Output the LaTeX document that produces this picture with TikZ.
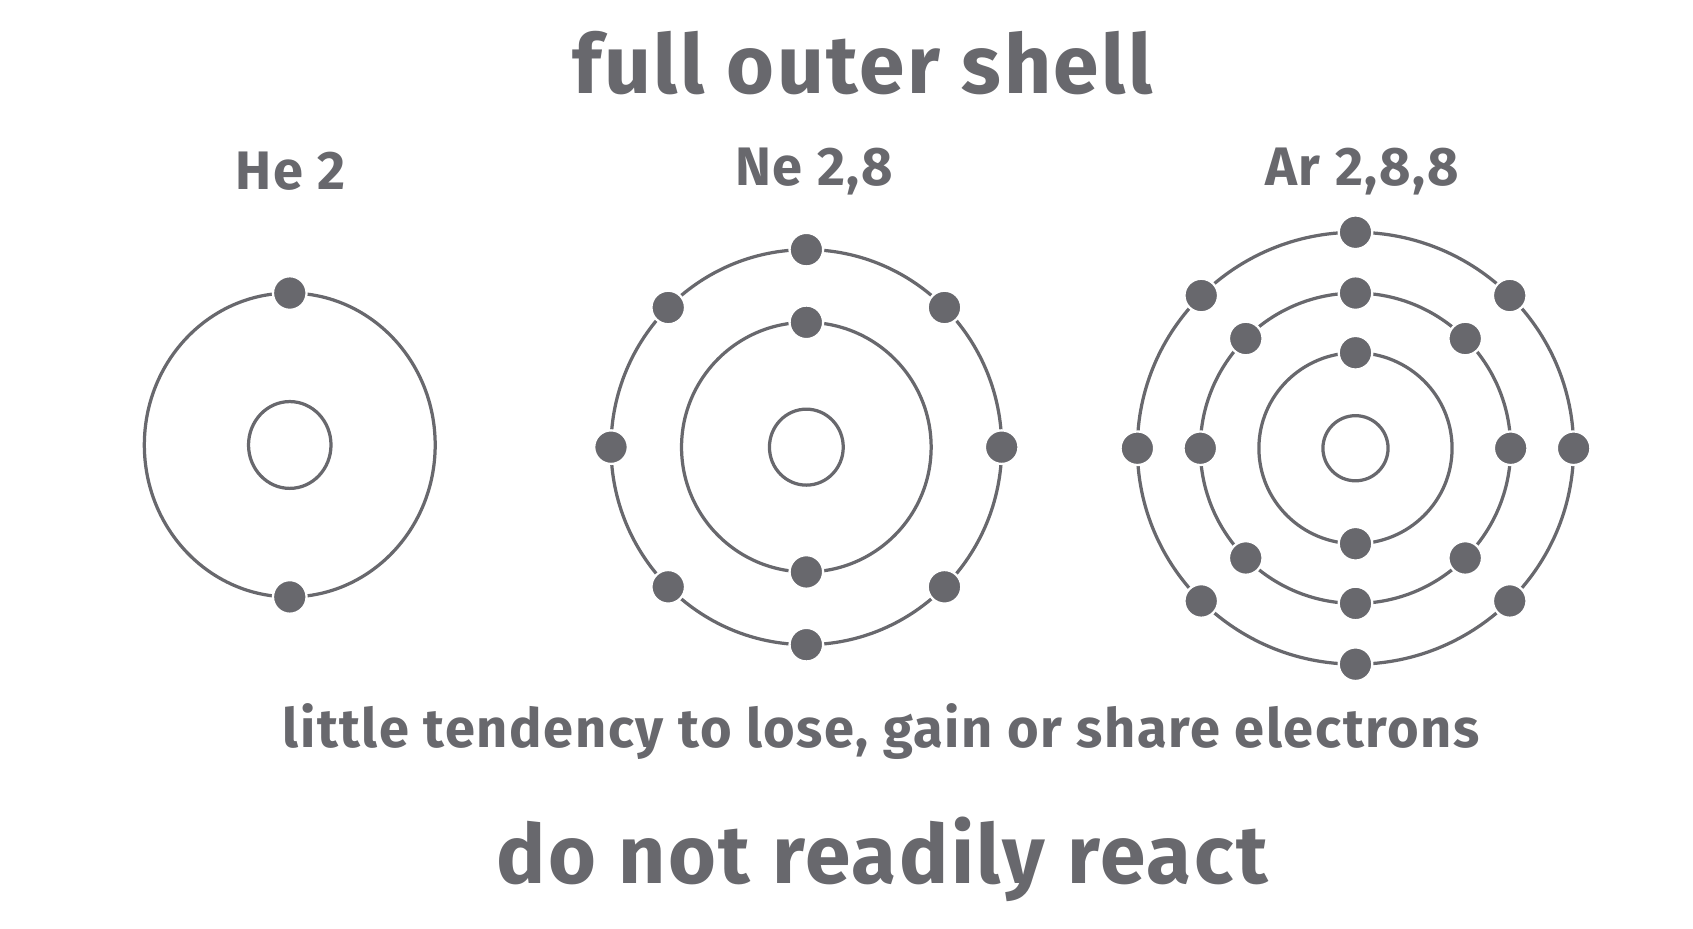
\documentclass[tikz,border=0pt]{standalone}
\usepackage{fontspec}
\setmainfont{Fira Sans}[LetterSpace=3]
\usetikzlibrary{calc}
\definecolor{atomgrey}{HTML}{68686D}
\begin{document}
\begin{tikzpicture}[
                x=0.01cm, y=-0.01cm,
                shell/.style={draw=atomgrey, line width=0.85pt},
                electron/.style={circle, fill=atomgrey, draw=white, line width=0.6pt, minimum size=8.8pt, inner sep=0pt},
                bigtext/.style={text=atomgrey, font=\fontsize{21.5}{24}\selectfont\bfseries},
                label/.style={text=atomgrey, font=\fontsize{14.2}{17}\selectfont\bfseries},
            ]
                \useasboundingbox (0,0) rectangle (1560,856);

                % Headings
                \node[bigtext] (title) at (795,58) {full outer shell};
                \node[label] (he-lab) at (268,158) {He 2};
                \node[label] (ne-lab) at (750,158) {Ne 2,8};
                \node[label] (ar-lab) at (1255,158) {Ar 2,8,8};
                \node[label] (tend) at (812,674) {little tendency to lose, gain or share electrons};
                \node[bigtext] (react) at (813,792) {do not readily react};

                % Helium
                \coordinate (He) at (267,410);
                \draw[shell] (He) ellipse (38 and 40);
                \draw[shell] (He) ellipse (134 and 140);
                \foreach \a in {90,270}
                    \node[electron] (He-\a) at ($(He)+(\a:134 and 140)$) {};

                % Neon
                \coordinate (Ne) at (743,412);
                \draw[shell] (Ne) ellipse (34 and 35);
                \draw[shell] (Ne) circle (115);
                \draw[shell] (Ne) ellipse (180 and 182);
                \foreach \a in {90,270}
                    \node[electron] (Ne1-\a) at ($(Ne)+(\a:115)$) {};
                \foreach \a in {0,45,...,315}
                    \node[electron] (Ne2-\a) at ($(Ne)+(\a:180 and 182)$) {};

                % Argon
                \coordinate (Ar) at (1249,413);
                \draw[shell] (Ar) circle (30);
                \draw[shell] (Ar) ellipse (89 and 88);
                \draw[shell] (Ar) circle (143);
                \draw[shell] (Ar) ellipse (201 and 199);
                \foreach \a in {90,270}
                    \node[electron] (Ar1-\a) at ($(Ar)+(\a:89 and 88)$) {};
                \foreach \a in {0,45,...,315}
                    \node[electron] (Ar2-\a) at ($(Ar)+(\a:143)$) {};
                \foreach \a in {0,45,...,315}
                    \node[electron] (Ar3-\a) at ($(Ar)+(\a:201 and 199)$) {};
            \end{tikzpicture}
\end{document}
